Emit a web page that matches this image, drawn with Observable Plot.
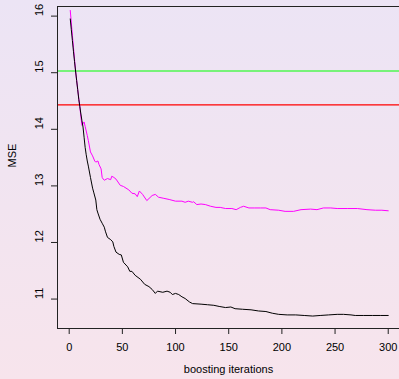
<!DOCTYPE html>
<html><head><meta charset="utf-8">
<script src="https://cdn.jsdelivr.net/npm/d3@7"></script>
<script src="https://cdn.jsdelivr.net/npm/@observablehq/plot@0.6"></script>
<style>
html,body{margin:0;padding:0;overflow:hidden;}
body{width:399px;height:379px;background:linear-gradient(to bottom,#ECE4F5,#F7E4EC);}
svg{display:block;}
</style></head><body><div id="chart"></div>
<script>
// magenta series (test error)
const magentaIter = [1,2,3,4,5,6,7,8,9,10,11,12,13,14,15,17,18,20,22,24,25,27,28,30,31,32,33,36,39,40,42,44,48,51,56,59,62,64,66,69,73,78,81,84,89,94,100,106,109,112,116,117,120,124,128,133,138,142,147,153,157,161,164,169,174,180,185,189,197,203,211,218,227,233,239,246,252,262,271,280,288,294,300];
const magentaMse = [16.10,15.88,15.66,15.45,15.24,15.03,14.87,14.70,14.55,14.40,14.22,14.07,14.10,14.13,14.05,13.89,13.80,13.60,13.53,13.44,13.42,13.44,13.38,13.30,13.15,13.12,13.10,13.13,13.11,13.17,13.15,13.12,13.01,12.99,12.93,12.87,12.86,12.81,12.91,12.85,12.74,12.83,12.85,12.80,12.78,12.76,12.73,12.73,12.71,12.73,12.71,12.72,12.67,12.68,12.67,12.64,12.62,12.62,12.60,12.60,12.58,12.62,12.64,12.61,12.61,12.61,12.61,12.58,12.57,12.55,12.55,12.58,12.59,12.58,12.61,12.61,12.60,12.60,12.60,12.58,12.57,12.57,12.56];
// black series (training error)
const blackIter = [1,2,3,4,5,6,7,8,9,10,11,12,13,14,15,16,17,18,20,22,23,25,26,27,29,31,33,34,36,39,41,42,44,47,49,51,55,57,59,62,67,71,75,78,81,83,88,92,95,97,100,103,106,109,113,116,124,130,136,141,147,152,156,163,171,178,185,191,197,205,213,221,229,236,244,252,258,265,269,277,285,293,300];
const blackMse = [15.95,15.76,15.57,15.38,15.20,15.03,14.86,14.70,14.53,14.40,14.27,14.15,14.04,13.86,13.68,13.55,13.44,13.35,13.15,12.96,12.89,12.75,12.58,12.52,12.41,12.34,12.27,12.20,12.09,12.05,12.01,11.93,11.83,11.79,11.78,11.65,11.57,11.49,11.49,11.42,11.35,11.26,11.22,11.17,11.10,11.14,11.12,11.14,11.12,11.08,11.10,11.08,11.04,11.01,10.95,10.92,10.91,10.90,10.89,10.87,10.85,10.86,10.83,10.82,10.81,10.79,10.78,10.75,10.73,10.72,10.72,10.71,10.70,10.71,10.72,10.73,10.73,10.72,10.71,10.71,10.71,10.71,10.71];
const refGreen = [15.03];
const refRed = [14.43];
const xTicks = [0,50,100,150,200,250,300];
const yTicks = [11,12,13,14,15,16];
const yLabel = "MSE";
const xLabel = "boosting iterations";

const magenta = magentaIter.map((it,i)=>({iter:it, mse:magentaMse[i]}));
const black = blackIter.map((it,i)=>({iter:it, mse:blackMse[i]}));
const font = "'Liberation Sans', Arial, Helvetica, sans-serif";

const chart = Plot.plot({
  width: 399, height: 379,
  marginLeft: 57, marginRight: 0, marginTop: 6, marginBottom: 51,
  style: {background: "transparent", fontFamily: font, fontSize: "11px", color: "#000"},
  x: {domain: [-11, 310.6], label: null},
  y: {domain: [10.48, 16.17], label: null},
  marks: [
    Plot.ruleY(refGreen, {stroke: "#00FF00", strokeWidth: 1.2}),
    Plot.ruleY(refRed, {stroke: "#FF0000", strokeWidth: 1.2}),
    Plot.line(magenta, {x: "iter", y: "mse", stroke: "#FF00FF", strokeWidth: 1}),
    Plot.line(black, {x: "iter", y: "mse", stroke: "#000", strokeWidth: 1}),
    Plot.axisX({ticks: xTicks, tickSize: 6, tickPadding: 9, label: null, fontSize: 11, stroke: "#222"}),
    Plot.axisY({ticks: yTicks, tickSize: 6, tickFormat: () => "", label: null, stroke: "#222"}),
    Plot.text(yTicks, {y: d => d, text: d => String(d), frameAnchor: "left", dx: -18, rotate: -90, fontSize: 11, fill: "#000"}),
    Plot.frame({anchor: "left", stroke: "#222"}),
    Plot.frame({anchor: "top", stroke: "#222"}),
    Plot.frame({anchor: "bottom", stroke: "#222"}),
    Plot.text([yLabel], {frameAnchor: "left", dx: -45, rotate: -90, fontSize: 11, fill: "#000"}),
    Plot.text([xLabel], {frameAnchor: "bottom", dy: 44, fontSize: 11, fill: "#000"})
  ]
});
document.getElementById("chart").append(chart);
</script></body></html>
